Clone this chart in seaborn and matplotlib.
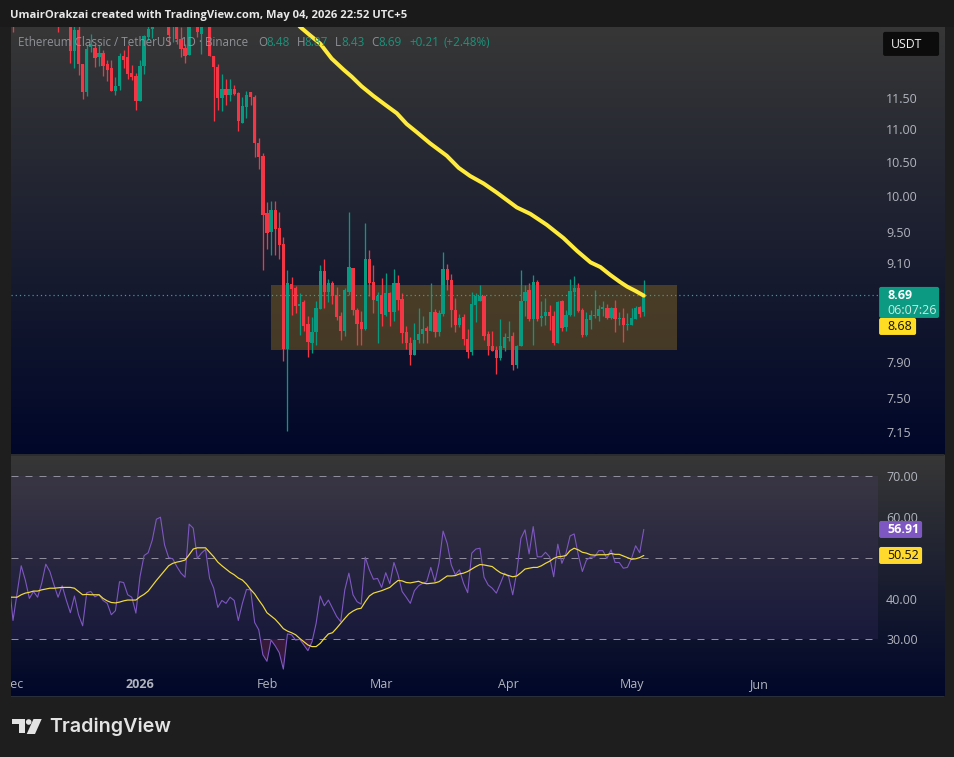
import numpy as np
import pandas as pd
import matplotlib
matplotlib.use("Agg")
import matplotlib.pyplot as plt
from matplotlib.patches import Rectangle, FancyBboxPatch, Polygon, Circle
from matplotlib.ticker import FixedLocator, FixedFormatter, NullLocator
import seaborn as sns

nan = float("nan")

# ---------------- data ----------------
highs = [13.0] + [nan]*9 + [
    nan,13.0,nan,nan,13.0,12.85,12.8,12.07,12.39,12.59,
    12.42,12.39,12.31,12.13,12.13,11.85,12.25,12.31,12.39,12.05,
    11.91,12.13,12.57,12.75,12.9,nan,nan,nan,13.0,12.95,
    13.0,12.72,12.42,12.9,nan,12.95,12.95,nan,12.9,12.2,
    12.06,11.89,11.81,11.82,11.71,11.6,11.52,11.62,11.6,11.54,
    10.86,10.63,9.92,9.93,9.93,9.78,9.434,9.005,8.913,8.795,
    8.71,8.628,8.428,8.42,8.608,9.07,9.15,8.888,8.858,8.787,
    8.476,8.77,9.775,9.026,8.528,8.49,9.625,9.26,9.07,8.73,
    8.905,8.963,8.73,9.018,8.942,8.71,8.316,8.18,8.348,8.528,
    8.428,8.316,8.837,8.516,8.508,9.23,9.08,8.955,8.65,8.456,
    8.46,8.276,8.72,8.71,8.816,8.69,8.25,8.25,8.08,8.396,
    8.229,8.368,8.237,8.095,9.005,8.816,8.837,8.942,8.88,8.616,
    8.65,8.568,8.488,8.608,8.628,8.508,8.888,8.93,8.837,8.528,
    8.476,8.508,8.745,8.568,8.608,8.58,8.54,8.628,8.476,8.528,
    8.468,8.528,8.548,8.548,8.87]
opens = [12.9] + [nan]*9 + [
    nan,12.9,nan,nan,12.9,12.29,12.67,12.07,11.6,12.36,
    12.35,12.18,12.25,12.06,12.0,11.62,11.69,12.2,12.19,11.92,
    11.86,11.45,12.03,12.54,12.69,nan,nan,nan,12.85,12.72,
    12.8,12.51,12.35,12.22,nan,12.85,12.6,nan,12.8,12.2,
    12.01,11.5,11.65,11.55,11.65,11.58,11.1,11.35,11.59,11.52,
    10.78,10.59,9.76,9.5,9.8,9.56,9.336,8.05,8.83,8.78,
    8.556,8.596,8.34,8.12,8.237,8.52,8.99,8.72,8.837,8.686,
    8.436,8.26,8.72,9.026,8.508,8.36,8.28,9.15,8.85,8.616,
    8.69,8.448,8.71,8.48,8.837,8.64,8.245,8.115,7.98,8.145,
    8.218,8.284,8.257,8.476,8.24,8.456,9.018,8.87,8.508,8.33,
    8.42,8.165,8.01,8.568,8.608,8.67,8.218,8.085,8.03,7.94,
    8.06,8.17,8.2,7.867,8.08,8.616,8.745,8.40,8.845,8.408,
    8.428,8.484,8.436,8.115,8.608,8.30,8.44,8.73,8.78,8.5,
    8.21,8.388,8.428,8.428,8.52,8.528,8.408,8.528,8.396,8.404,
    8.328,8.328,8.40,8.536,8.48]
lows = [12.63] + [nan]*9 + [
    nan,12.63,nan,nan,12.09,12.0,11.88,11.48,11.53,12.27,
    12.02,12.03,11.86,11.77,11.62,11.54,11.63,11.99,11.82,11.80,
    11.30,11.45,11.89,12.49,12.52,nan,nan,nan,12.39,12.45,
    12.42,12.19,12.08,12.22,nan,12.54,12.24,nan,12.21,11.12,
    11.31,11.29,11.39,11.44,11.54,10.97,11.1,11.17,11.38,10.57,
    10.4,9.0,9.28,9.2,9.19,9.15,7.91,7.155,8.45,8.468,
    8.21,8.25,7.95,8.0,8.095,8.52,8.53,8.596,8.58,8.38,
    8.15,8.19,8.69,8.45,8.095,8.09,8.27,8.67,8.468,8.115,
    8.308,8.436,8.316,8.368,8.508,8.115,8.04,7.867,7.98,8.115,
    8.12,8.11,8.25,8.18,8.19,8.436,8.755,8.30,8.237,8.30,
    8.095,7.94,7.98,8.356,8.608,8.152,7.98,8.02,7.76,7.925,
    8.02,8.134,7.805,7.83,8.08,8.428,8.368,8.095,8.368,8.308,
    8.328,8.27,8.095,8.11,8.26,8.26,8.428,8.428,8.48,8.18,
    8.20,8.28,8.408,8.368,8.428,8.40,8.40,8.237,8.328,8.127,
    8.27,8.328,8.40,8.416,8.43]
closes = [12.8] + [nan]*9 + [
    nan,12.8,nan,nan,12.29,12.66,12.07,11.6,12.32,12.42,
    12.17,12.25,12.03,11.96,11.62,11.70,12.2,12.14,11.89,11.85,
    11.45,12.03,12.55,12.69,12.8,nan,nan,nan,12.57,12.85,
    12.51,12.33,12.21,12.8,nan,12.63,12.85,nan,12.21,12.01,
    11.5,11.65,11.55,11.65,11.57,11.12,11.37,11.55,11.52,10.78,
    10.57,9.73,9.49,9.8,9.54,9.33,8.05,8.837,8.76,8.556,
    8.58,8.308,8.125,8.24,8.528,8.99,8.72,8.837,8.67,8.42,
    8.257,8.75,9.04,8.508,8.34,8.28,9.15,8.837,8.628,8.68,
    8.46,8.71,8.476,8.837,8.628,8.229,8.11,7.98,8.145,8.22,
    8.276,8.26,8.48,8.24,8.468,9.018,8.88,8.50,8.33,8.41,
    8.16,8.01,8.576,8.67,8.68,8.20,8.08,8.02,7.94,8.08,
    8.18,8.18,7.867,8.08,8.616,8.73,8.40,8.85,8.40,8.428,
    8.484,8.428,8.115,8.60,8.288,8.448,8.74,8.78,8.488,8.21,
    8.40,8.44,8.44,8.516,8.54,8.408,8.528,8.396,8.408,8.328,
    8.34,8.408,8.528,8.46,8.69]

# 200-day moving average, read every few days (days after 1 Dec 2025)
ma_days = [68.0,70.1,72.5,75.0,77.8,80.7,82.7,85.1,88.0,90.8,93.7,96.1,98.6,
           101.8,105.9,108.8,111.6,114.9,118.1,123.0,126.3,130.3,134.4,137.7,
           141.0,143.4,145.8,148.2,150.0,151.9,154.0]
ma_vals = [12.9,12.72,12.57,12.42,12.16,11.97,11.85,11.69,11.53,11.39,11.25,11.08,10.95,
           10.78,10.59,10.41,10.29,10.18,10.05,9.84,9.75,9.6,9.42,9.25,9.10,9.04,8.94,
           8.85,8.79,8.74,8.68]

# RSI and its average, daily from 30 Nov 2025
rsi = [44.5,
    34.6,41.3,48.0,44.5,40.0,41.7,40.3,43.7,48.4,46.6,
    43.3,40.3,43.1,39.6,36.5,40.6,36.0,33.3,41.4,41.7,
    40.4,40.9,39.5,38.8,36.0,37.0,44.1,43.9,40.9,40.3,
    36.4,45.3,50.5,51.2,54.3,59.4,59.9,53.1,50.0,49.7,
    47.8,46.2,45.2,58.2,57.2,49.8,51.1,52.0,44.9,42.5,
    37.8,39.5,38.8,40.3,39.5,34.6,38.8,42.2,42.1,34.1,
    32.3,26.2,24.6,29.8,28.4,26.7,22.7,31.3,31.1,29.8,
    30.0,28.6,27.2,29.4,33.9,40.6,38.2,39.6,
    37.6,35.6,34.3,42.1,46.2,40.9,39.2,38.6,50.1,47.0,
    44.7,44.9,42.7,46.3,43.6,48.8,45.8,41.7,40.3,38.8,
    41.9,43.1,43.7,44.1,47.6,44.1,48.6,56.5,53.5,48.2,
    45.8,47.0,43.7,41.4,51.1,52.1,52.3,45.2,43.3,42.5,
    41.3,43.7,46.2,45.3,40.9,46.6,54.7,56.8,50.9,57.6,
    50.2,50.2,51.3,50.2,45.3,53.3,48.6,51.1,55.3,55.8,
    50.7,46.6,49.4,50.1,50.2,51.7,51.7,49.8,51.9,48.8,
    48.8,47.4,47.6,49.8,52.9,51.2,56.91]
rsi_ma = [40.3,
    40.3,40.3,40.9,41.3,41.5,41.8,41.8,42.1,42.3,42.5,
    42.5,42.6,42.7,42.7,42.7,42.5,41.7,40.9,41.0,40.9,
    40.9,40.9,40.0,39.4,39.0,38.9,39.1,39.4,39.6,39.6,
    39.6,40.4,41.0,41.8,43.1,44.4,45.6,46.8,48.0,48.6,
    48.9,49.1,49.4,50.7,52.1,52.4,52.4,52.4,51.3,50.2,
    48.9,48.0,47.2,46.4,45.8,45.0,44.5,43.5,42.2,41.1,
    39.6,38.2,36.5,35.7,34.9,33.8,32.6,32.0,31.6,31.1,
    30.2,29.4,28.6,28.2,28.2,29.0,30.2,31.3,
    31.6,32.7,33.9,35.1,36.2,36.9,37.4,37.6,39.2,40.6,
    41.3,41.6,41.9,42.3,42.7,43.6,44.4,44.3,43.9,43.8,
    44.0,44.2,43.8,43.6,43.7,43.8,44.1,44.8,45.5,45.5,
    45.6,46.0,46.2,46.6,47.2,47.8,48.3,48.2,48.0,47.8,
    47.0,46.3,45.9,45.6,45.3,45.5,46.3,47.2,47.4,47.6,
    47.6,48.0,48.6,49.1,49.8,50.2,50.3,50.5,51.7,52.3,
    51.9,51.3,51.1,50.7,50.6,50.7,50.7,50.7,51.0,50.8,
    50.8,50.4,50.0,49.6,49.7,50.0,50.52]

price_ticks = [11.5, 11.0, 10.5, 10.0, 9.5, 9.1, 7.9, 7.5, 7.15]
rsi_ticks = [70, 60, 40, 30]
rsi_levels = [70, 50, 30]
month_starts = ["2025-12-01", "2026-01-01", "2026-02-01", "2026-03-01",
                "2026-04-01", "2026-05-01", "2026-06-01"]
month_labels = ["Dec", "2026", "Feb", "Mar", "Apr", "May", "Jun"]
box_start, box_end = "2026-02-02", "2026-05-12"
box_low, box_high = 8.03, 8.81
last_price = 8.69

# ---------------- styling ----------------
GREEN, RED = "#089981", "#F23645"
GREY = "#b2b5be"
PX = 0.72  # points per pixel at dpi 100

sns.set_theme(style="dark")
plt.rcParams["font.family"] = ["Open Sans", "DejaVu Sans"]
fig = plt.figure(figsize=(9.541, 7.571), dpi=100, facecolor="#1e1e1e")

def rect(top, bottom, left=11, right=878):
    return [left/954, 1-bottom/757, (right-left)/954, (bottom-top)/757]

# background with the two pane gradients
bg = fig.add_axes([0, 0, 1, 1], zorder=0)
bg.set_axis_off()
def gradient(top, bottom):
    a = np.array([0x37, 0x37, 0x37])/255
    b = np.array([0x00, 0x07, 0x29])/255
    t = np.linspace(0, 1, 256)[:, None, None]
    img = a[None, None, :]*(1-t) + b[None, None, :]*t
    bg.imshow(img, extent=(11, 944, bottom, top), aspect="auto", interpolation="bilinear")
gradient(27, 454)
gradient(456, 696)
bg.add_patch(Rectangle((11, 454), 933, 2, color="#2b2c30", lw=0))
bg.add_patch(Rectangle((10, 696), 934, 1.5, color="#2a2e39", lw=0))
bg.set_xlim(0, 954)
bg.set_ylim(757, 0)

# ---------------- price pane ----------------
ax = fig.add_axes(rect(27, 454), zorder=2)
ax.patch.set_alpha(0)
candle_dates = pd.date_range("2025-12-01", periods=len(closes), freq="D")
rsi_dates = pd.date_range("2025-11-30", periods=len(rsi), freq="D")
start = pd.Timestamp("2025-12-01")
xlim = (start + pd.Timedelta(days=-0.49), start + pd.Timedelta(days=211.2))

ax.set_yscale("log")
o, h, l, c = map(np.array, (opens, highs, lows, closes))
ok = ~np.isnan(c)
colors = np.where(c >= o, GREEN, RED)
ax.add_patch(Rectangle((pd.Timestamp(box_start), box_low),
                       pd.Timestamp(box_end) - pd.Timestamp(box_start), box_high - box_low,
                       facecolor="#8a6a20", alpha=0.45, edgecolor="none", zorder=1))
ax.vlines(candle_dates[ok], l[ok], h[ok], colors=colors[ok], lw=1.3*PX, zorder=2)
ax.bar(candle_dates[ok], np.abs(c-o)[ok], bottom=np.minimum(o, c)[ok], width=0.8,
       color=colors[ok], linewidth=0, zorder=3)
ax.axhline(last_price, color="#12b598", lw=1.2*PX, ls=(0, (1, 2.5)), zorder=2)
ma_dates = start + pd.to_timedelta(ma_days, unit="D")
sns.lineplot(x=ma_dates, y=ma_vals, ax=ax, color="#FFEB3B", linewidth=4*PX,
             errorbar=None, zorder=4, legend=False)
ax.set_xlim(*xlim)
ax.set_ylim(6.93, 12.72)
ax.set_xlabel("")
ax.set_ylabel("")
ax.yaxis.tick_right()
ax.yaxis.set_major_locator(FixedLocator(price_ticks))
ax.yaxis.set_major_formatter(FixedFormatter([f"{v:.2f}" for v in price_ticks]))
ax.yaxis.set_minor_locator(NullLocator())
ax.tick_params(axis="y", which="both", length=0, pad=8*PX, labelsize=9, labelcolor=GREY)
ax.tick_params(axis="x", which="both", length=0, labelbottom=False)
ax.grid(False)
sns.despine(ax=ax, left=True, right=True, top=True, bottom=True)

# ---------------- RSI pane ----------------
ax2 = fig.add_axes(rect(456, 696), zorder=2)
ax2.patch.set_alpha(0)
ax2.axhspan(30, 70, facecolor="#7E57C2", alpha=0.10, lw=0, zorder=0)
for level in rsi_levels:
    ax2.axhline(level, color="#8f8d9c", lw=1*PX, ls=(0, (7, 7)), zorder=1)
rsi_arr = np.array(rsi)
ax2.fill_between(rsi_dates, rsi_arr, 30, where=rsi_arr < 30, interpolate=True,
                 color="#8a2a5a", alpha=0.35, lw=0, zorder=1)
sns.lineplot(x=rsi_dates, y=rsi, ax=ax2, color="#7E57C2", linewidth=1.1*PX,
             errorbar=None, zorder=2, legend=False)
sns.lineplot(x=rsi_dates, y=rsi_ma, ax=ax2, color="#F2DC3C", linewidth=1.2*PX,
             errorbar=None, zorder=3, legend=False)
ax2.set_xlim(*xlim)
ax2.set_ylim(16.1, 74.9)
ax2.set_xlabel("")
ax2.set_ylabel("")
ax2.yaxis.tick_right()
ax2.set_yticks(rsi_ticks)
ax2.set_yticklabels([f"{v:.2f}" for v in rsi_ticks])
ax2.set_xticks(pd.to_datetime(month_starts))
ax2.set_xticklabels(month_labels)
ax2.tick_params(axis="y", length=0, pad=8*PX, labelsize=9, labelcolor=GREY)
ax2.tick_params(axis="x", length=0, pad=-18*PX, labelsize=9, labelcolor=GREY)
for lab in ax2.get_xticklabels():
    if lab.get_text() == "2026":
        lab.set_fontweight("bold")
ax2.grid(False)
sns.despine(ax=ax2, left=True, right=True, top=True, bottom=True)

# ---------------- overlay: strips, labels, header, logo ----------------
ov = fig.add_axes([0, 0, 1, 1], zorder=5)
ov.set_axis_off()
ov.patch.set_alpha(0)
ov.set_xlim(0, 954)
ov.set_ylim(757, 0)
ov.add_patch(Rectangle((0, 0), 954, 27, color="#1a1a1a", lw=0))
ov.add_patch(Rectangle((0, 27), 11, 670, color="#1e1e1e", lw=0))

ov.text(10, 15, "UmairOrakzai created with TradingView.com, May 04, 2026 22:52 UTC+5",
        color="#e8e8e8", fontsize=8.1, fontweight="bold", va="center", ha="left")

legend_grey = "#8f9096"
legend_green = "#1c927a"
ov.text(18, 42, "Ethereum Classic / TetherUS \u00b7 1D \u00b7 Binance", color=legend_grey,
        fontsize=8.4, va="center", ha="left")
for x, s, col in [(258, "O", legend_grey), (266, "8.48", legend_green),
                  (297, "H", legend_grey), (304, "8.87", legend_green),
                  (335, "L", legend_grey), (341, "8.43", legend_green),
                  (371, "C", legend_grey), (378, "8.69", legend_green),
                  (409, "+0.21", legend_green), (443, "(+2.48%)", legend_green)]:
    ov.text(x, 42, s, color=col, fontsize=8.4, va="center", ha="left")

def tag(x0, y0, x1, y1, color):
    ov.add_patch(FancyBboxPatch((x0+1, y0+1), x1-x0-2, y1-y0-2,
                                boxstyle="round,pad=1,rounding_size=2",
                                facecolor=color, edgecolor="none", lw=0))

tag(883, 32, 939, 56, "#0c0c0c")
ov.text(891, 44.5, "USDT", color="#f0f0f0", fontsize=8.8, va="center", ha="left")

tag(879, 287, 939, 318, "#0C9A82")
ov.text(887, 295.5, "8.69", color="white", fontsize=9, fontweight="bold", va="center", ha="left")
ov.text(887, 310, "06:07:26", color="#c8ece4", fontsize=9, va="center", ha="left")
tag(879, 318, 916, 335, "#FFDD22")
ov.text(887, 326.5, "8.68", color="#111111", fontsize=9, va="center", ha="left")

tag(879, 521, 922, 538, "#7E57C2")
ov.text(887, 529.5, "56.91", color="white", fontsize=9, fontweight="bold", va="center", ha="left")
tag(879, 547, 922, 564, "#FFD92B")
ov.text(887, 555.5, "50.52", color="#111111", fontsize=9, va="center", ha="left")

logo = "#e3e3e3"
ov.add_patch(Polygon([(12, 719), (25, 719), (25, 733.5), (18.5, 733.5), (18.5, 724.5), (12, 724.5)],
                     closed=True, facecolor=logo, lw=0))
ov.add_patch(Circle((28.7, 722), 2.8, facecolor=logo, lw=0))
ov.add_patch(Polygon([(33.5, 719), (41.7, 719), (35, 734), (26.7, 734)],
                     closed=True, facecolor=logo, lw=0))
ov.text(49, 726.5, "TradingView", color=logo, fontsize=14.2, fontweight="semibold",
        family=["Inter", "DejaVu Sans"], va="center", ha="left")

fig.savefig("out.png", dpi=100, facecolor=fig.get_facecolor())
